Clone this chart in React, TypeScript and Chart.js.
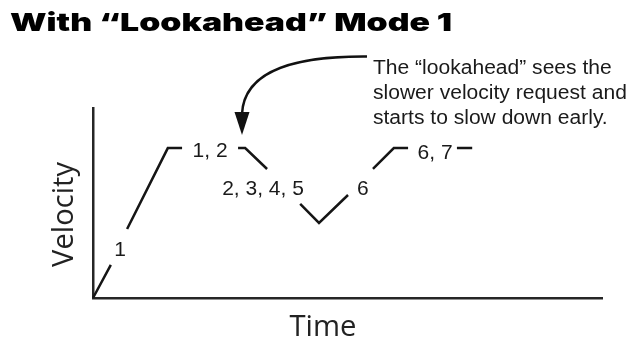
import React, { useEffect, useRef } from "react";
import { Chart, registerables } from "chart.js";

Chart.register(...registerables);

// Velocity profile (time, velocity) — null breaks the line where a label sits
const profileTime: (number | null)[] = [0, 3.5, null, 6.7, 14.7, 17.5, null, 28.5, 29.9, 34.2, null, 40.7, 44.4, 50.1, null, 55.0, 59.1, 61.9, null, 71.5, 74.5];
const profileVelocity: (number | null)[] = [0, 17.4, null, 36.3, 78.9, 78.9, null, 78.9, 78.9, 67.9, null, 49.5, 39.5, 54.2, null, 67.9, 78.9, 78.9, null, 78.9, 78.9];

// Move labels placed along the profile
const labelTexts: string[] = ["1", "1, 2", "2, 3, 4, 5", "6", "6, 7"];
const labelTime: number[] = [5.3, 23.0, 33.4, 53.0, 67.2];
const labelVelocity: number[] = [26.3, 77.9, 57.9, 57.9, 77.1];

const titleText = "With \u201cLookahead\u201d Mode 1";
const noteLines: string[] = [
  "The \u201clookahead\u201d sees the",
  "slower velocity request and",
  "starts to slow down early.",
];
const xAxisTitle = "Time";
const yAxisTitle = "Velocity";

function fitFontSize(ctx: CanvasRenderingContext2D, text: string, family: string, weight: string, target: number) {
  ctx.font = `${weight} 100px ${family}`;
  const w = ctx.measureText(text).width;
  return (100 * target) / w;
}

const decorPlugin = {
  id: "decor",
  afterDraw(chart: any) {
    const ctx: CanvasRenderingContext2D = chart.ctx;
    const xs = chart.scales.x;
    const ys = chart.scales.y;
    ctx.save();

    // Title (heavy, stretched to match width)
    ctx.fillStyle = "#000";
    ctx.textBaseline = "alphabetic";
    ctx.textAlign = "left";
    ctx.font = `900 25px "Arial Black", Inter, "DejaVu Sans", sans-serif`;
    const tw = ctx.measureText(titleText).width;
    ctx.save();
    ctx.translate(10, 31);
    ctx.scale(442 / tw, 1);
    ctx.fillText(titleText, 0, 0);
    ctx.restore();

    // Axis titles
    ctx.fillStyle = "#222";
    const fam = `"Open Sans", sans-serif`;
    const ts = fitFontSize(ctx, xAxisTitle, fam, "400", 67);
    ctx.font = `400 ${ts}px ${fam}`;
    ctx.textAlign = "center";
    ctx.fillText(xAxisTitle, 323, 336);
    const vs = fitFontSize(ctx, yAxisTitle, fam, "400", 105);
    ctx.save();
    ctx.translate(73, 214.5);
    ctx.rotate(-Math.PI / 2);
    ctx.font = `400 ${vs}px ${fam}`;
    ctx.textAlign = "center";
    ctx.fillText(yAxisTitle, 0, 0);
    ctx.restore();

    // Profile labels
    ctx.fillStyle = "#1a1a1a";
    ctx.font = `400 21px "Liberation Sans", Arial, sans-serif`;
    ctx.textAlign = "center";
    for (let i = 0; i < labelTexts.length; i++) {
      const px = xs.getPixelForValue(labelTime[i]);
      const py = ys.getPixelForValue(labelVelocity[i]);
      ctx.fillText(labelTexts[i], px, py + 7.5);
    }

    // Note text
    ctx.fillStyle = "#1a1a1a";
    const ns = fitFontSize(ctx, noteLines[1], `"Liberation Sans", Arial, sans-serif`, "400", 254);
    ctx.font = `400 ${ns}px "Liberation Sans", Arial, sans-serif`;
    ctx.textAlign = "left";
    const bases = [74, 99, 124];
    noteLines.forEach((l, i) => ctx.fillText(l, 373, bases[i]));

    // Curved arrow
    ctx.strokeStyle = "#111";
    ctx.lineWidth = 2.5;
    ctx.lineCap = "butt";
    ctx.beginPath();
    ctx.moveTo(367, 56.5);
    ctx.bezierCurveTo(300, 56, 244, 68, 242, 114);
    ctx.stroke();
    ctx.fillStyle = "#111";
    ctx.beginPath();
    ctx.moveTo(234.5, 112);
    ctx.lineTo(249.5, 112);
    ctx.lineTo(242, 135);
    ctx.closePath();
    ctx.fill();

    ctx.restore();
  },
};

export default function App() {
  const ref = useRef<HTMLCanvasElement | null>(null);
  useEffect(() => {
    if (!ref.current) return;
    const points = profileTime.map((t, i) =>
      t === null || profileVelocity[i] === null ? { x: NaN, y: NaN } : { x: t, y: profileVelocity[i] as number }
    );
    const chart = new Chart(ref.current, {
      type: "line",
      data: {
        datasets: [
          {
            data: points as any,
            borderColor: "#151515",
            borderWidth: 2.5,
            pointRadius: 0,
            tension: 0,
            spanGaps: false,
            fill: false,
            clip: false as any,
            borderCapStyle: "butt",
            borderJoinStyle: "miter",
          },
        ],
      },
      options: {
        animation: false,
        responsive: false,
        devicePixelRatio: 1,
        layout: { autoPadding: false, padding: { left: 93, right: 32, top: 108, bottom: 40 } },
        plugins: { legend: { display: false }, title: { display: false }, tooltip: { enabled: false } },
        events: [],
        scales: {
          x: {
            type: "linear",
            min: 0,
            max: 100,
            ticks: { display: false },
            grid: { display: false, drawTicks: false },
            border: { display: true, color: "#262626", width: 2.5 },
          },
          y: {
            type: "linear",
            min: 0,
            max: 100,
            ticks: { display: false },
            grid: { display: false, drawTicks: false },
            border: { display: true, color: "#262626", width: 2.5 },
          },
        },
      },
      plugins: [decorPlugin],
    });
    return () => chart.destroy();
  }, []);
  return (
    <div style={{ position: "fixed", left: 0, top: 0, width: 634, height: 338, background: "#fff" }}>
      <canvas ref={ref} width={634} height={338} style={{ display: "block" }} />
    </div>
  );
}
